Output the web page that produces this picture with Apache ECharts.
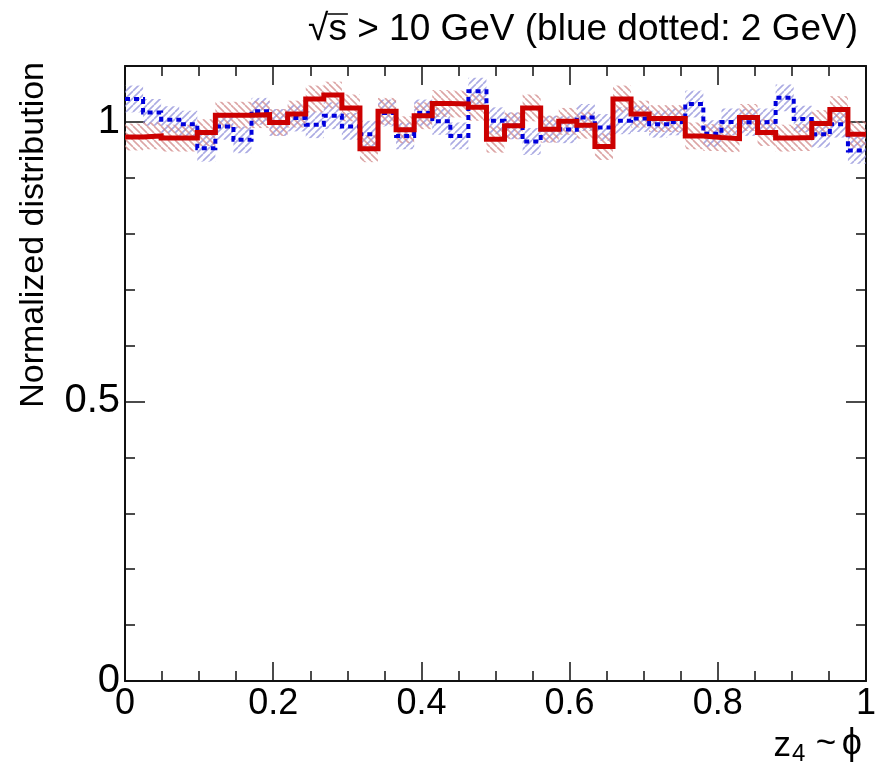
<!DOCTYPE html>
<html><head><meta charset="utf-8">
<script src="https://cdn.jsdelivr.net/npm/echarts@6/dist/echarts.min.js"></script>
<style>html,body{margin:0;padding:0;background:#fff}#c{width:880px;height:765px}</style>
</head><body><div id="c"></div>
<script>
// ---- data ----
const nBins = 41;               // histogram bins spanning z4 in [0, 1]
const redValues = [0.973,0.975,0.971,0.971,0.981,1.012,1.012,1.013,0.999,1.014,
                   1.041,1.048,1.025,0.952,1.019,0.986,1.011,1.033,1.032,1.026,
                   0.969,0.993,1.025,0.987,1.001,0.994,0.956,1.041,1.014,1.006,
                   1.006,0.975,0.972,0.970,1.008,0.981,0.971,0.972,0.997,1.022,0.978];
const blueValues = [1.041,1.017,1.004,0.996,0.953,0.992,0.968,1.019,0.999,1.007,
                    0.995,1.011,0.992,0.978,1.016,0.975,1.016,1.001,0.975,1.055,
                    1.002,0.993,0.965,0.987,0.986,1.008,0.990,1.002,1.006,0.996,
                    1.000,1.032,0.979,1.000,0.999,1.000,1.043,1.005,0.978,0.996,0.949];
const redErrors = [0.024,0.024,0.024,0.024,0.024,0.024,0.024,0.024,0.024,0.024,
                   0.024,0.024,0.024,0.024,0.024,0.024,0.024,0.024,0.024,0.024,
                   0.024,0.024,0.024,0.024,0.024,0.024,0.024,0.024,0.024,0.024,
                   0.024,0.024,0.024,0.024,0.024,0.024,0.024,0.024,0.024,0.024,0.024];
const blueErrors = [0.024,0.024,0.024,0.024,0.024,0.024,0.024,0.024,0.024,0.024,
                    0.024,0.024,0.024,0.024,0.024,0.024,0.024,0.024,0.024,0.024,
                    0.024,0.024,0.024,0.024,0.024,0.024,0.024,0.024,0.024,0.024,
                    0.024,0.024,0.024,0.024,0.024,0.024,0.024,0.024,0.024,0.024,0.024];
const xMin = 0, xMax = 1, yMin = 0, yMax = 1.1;
const yTickLabels = ['0', '0.5', '1'];
const xTickLabels = ['0', '0.2', '0.4', '0.6', '0.8', '1'];
const titleRoot = '\u221A';
const titleS = 's';
const titleRest = ' > 10 GeV (blue dotted: 2 GeV)';
const yTitle = 'Normalized distribution';

// ---- helpers ----
const binEdges = [];
for (let k = 0; k <= nBins; k++) binEdges.push(xMin + (xMax - xMin) * k / nBins);

function hatch(color, dir) {
  const s = 7, c = document.createElement('canvas');
  c.width = s; c.height = s;
  const g = c.getContext('2d');
  g.strokeStyle = color; g.lineWidth = 1.6;
  g.beginPath();
  for (let o = -s; o <= s; o += s) {
    if (dir > 0) { g.moveTo(o, s); g.lineTo(o + s, 0); }
    else { g.moveTo(o, 0); g.lineTo(o + s, s); }
  }
  g.stroke();
  return c;
}
const redHatch = {image: hatch('rgba(205,125,125,0.7)', -1), repeat: 'repeat'};
const blueHatch = {image: hatch('rgba(135,135,215,0.7)', 1), repeat: 'repeat'};

function bandData(vals, errs) {
  return vals.map((v, i) => [binEdges[i], binEdges[i + 1], v - errs[i], v + errs[i]]);
}
function bandRender(fill) {
  return function (params, api) {
    const p0 = api.coord([api.value(0), api.value(3)]);
    const p1 = api.coord([api.value(1), api.value(2)]);
    return {type: 'rect', shape: {x: p0[0], y: p0[1], width: p1[0] - p0[0], height: p1[1] - p0[1]},
            style: {fill: fill, stroke: null}};
  };
}
function stepData(vals) {
  const d = vals.map((v, i) => [binEdges[i], v]);
  d.push([binEdges[nBins], vals[vals.length - 1]]);
  return d;
}

const FONT = '"Liberation Sans", Arial, Helvetica, sans-serif';
const axisCol = '#111';
function xAx(pos, interval, len, labels, line) {
  return {type: 'value', min: xMin, max: xMax, interval: interval, position: pos,
    axisLine: {show: line, onZero: false, lineStyle: {color: axisCol, width: 2}},
    axisTick: {show: true, inside: true, length: len, lineStyle: {color: axisCol, width: 1.5}},
    axisLabel: {show: labels, margin: 5, fontSize: 36, fontFamily: FONT, color: '#000',
      formatter: v => { const i = xTickLabels.indexOf(String(+v.toFixed(2))); return i >= 0 ? xTickLabels[i] : ''; }},
    splitLine: {show: false}, minorTick: {show: false}};
}
function yAx(pos, interval, len, labels, line) {
  return {type: 'value', min: yMin, max: yMax, interval: interval, position: pos,
    axisLine: {show: line, onZero: false, lineStyle: {color: axisCol, width: 2}},
    axisTick: {show: true, inside: true, length: len, lineStyle: {color: axisCol, width: 1.5}},
    axisLabel: {show: labels, margin: 5, fontSize: 40, fontFamily: FONT, color: '#000',
      formatter: v => { const i = yTickLabels.indexOf(String(+v.toFixed(2))); return i >= 0 ? yTickLabels[i] : ''; }},
    splitLine: {show: false}, minorTick: {show: false}};
}

// title geometry (measured so the overline sits over the "s")
const TFS = 37, titleRight = 858;
const mctx = document.createElement('canvas').getContext('2d');
mctx.font = TFS + 'px ' + FONT;
const wAll = mctx.measureText(titleRoot + titleS + titleRest).width;
const wRoot = mctx.measureText(titleRoot).width;
const wS = mctx.measureText(titleS).width;
const titleLeft = titleRight - wAll;

const chart = echarts.init(document.getElementById('c'), null, {renderer: 'canvas', width: 880, height: 765});
chart.setOption({
  animation: false,
  backgroundColor: '#fff',
  grid: {left: 125, right: 14, top: 66, bottom: 84, containLabel: false, outerBoundsMode: 'none'},
  xAxis: [xAx('bottom', 0.2, 19, true, true), xAx('bottom', 0.05, 10, false, false),
          xAx('top', 0.2, 19, false, true), xAx('top', 0.05, 10, false, false)],
  yAxis: [yAx('left', 0.5, 20, true, true), yAx('left', 0.1, 10, false, false),
          yAx('right', 0.5, 20, false, true), yAx('right', 0.1, 10, false, false)],
  series: [
    {type: 'custom', name: 'blue band', xAxisIndex: 0, yAxisIndex: 0, data: bandData(blueValues, blueErrors),
     encode: {x: [0, 1], y: [2, 3]}, renderItem: bandRender(blueHatch), z: 1, silent: true},
    {type: 'custom', name: 'red band', xAxisIndex: 0, yAxisIndex: 0, data: bandData(redValues, redErrors),
     encode: {x: [0, 1], y: [2, 3]}, renderItem: bandRender(redHatch), z: 1, silent: true},
    {type: 'line', name: '2 GeV', xAxisIndex: 0, yAxisIndex: 0, step: 'end', data: stepData(blueValues),
     showSymbol: false, symbol: 'none', z: 3,
     lineStyle: {color: '#0000dd', width: 4, type: [5, 4], cap: 'butt', join: 'miter'}},
    {type: 'line', name: '10 GeV', xAxisIndex: 0, yAxisIndex: 0, step: 'end', data: stepData(redValues),
     showSymbol: false, symbol: 'none', z: 4,
     lineStyle: {color: '#cc0000', width: 5, cap: 'butt', join: 'miter'}}
  ],
  graphic: [
    {type: 'text', x: titleLeft, y: 30, style: {text: titleRoot + titleS + titleRest, align: 'left', verticalAlign: 'middle',
     fontSize: TFS, fontFamily: FONT, fill: '#000'}},
    {type: 'line', shape: {x1: titleLeft + wRoot - 1, y1: 14, x2: titleLeft + wRoot + wS + 1, y2: 14},
     style: {stroke: '#000', lineWidth: 1.5}},
    {type: 'text', x: 34, y: 62, rotation: Math.PI / 2,
     style: {text: yTitle, align: 'right', verticalAlign: 'middle', fontSize: 34, fontFamily: FONT, fill: '#000'}},
    {type: 'text', x: 862, y: 744, style: {text: '\u03D5', align: 'right', verticalAlign: 'middle', fontSize: 36, fontFamily: FONT, fill: '#000'}},
    {type: 'text', x: 826, y: 744, style: {text: '~', align: 'center', verticalAlign: 'middle', fontSize: 35, fontFamily: FONT, fill: '#000'}},
    {type: 'text', x: 792, y: 754, style: {text: '4', align: 'left', verticalAlign: 'middle', fontSize: 24, fontFamily: FONT, fill: '#000'}},
    {type: 'text', x: 791, y: 746, style: {text: 'z', align: 'right', verticalAlign: 'middle', fontSize: 35, fontFamily: FONT, fill: '#000'}}
  ]
});
</script></body></html>
